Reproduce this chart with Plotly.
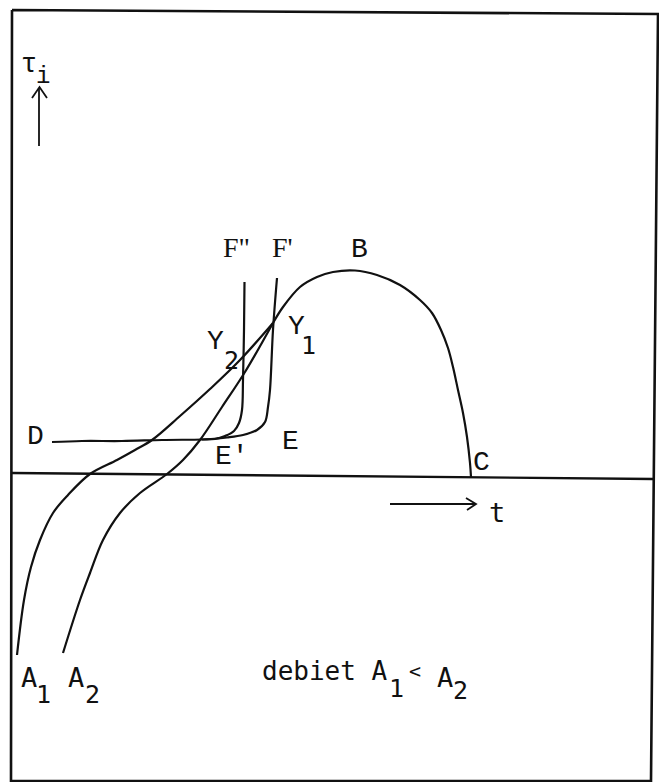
import plotly.graph_objects as go

# Curve A1 (lower flow): rises from below the t-axis up to Y1
a1_t = [0.5, 1.2, 1.9, 2.8, 4.1, 5.6, 7.8, 10.5, 12.3, 14.0, 16.8, 19.8, 22.8, 26.1]
a1_tau = [-18.0, -12.5, -9.2, -6.5, -3.8, -2.0, 0.1, 1.5, 2.5, 3.5, 5.9, 8.6, 11.5, 15.2]

# Curve A2 (higher flow)
a2_t = [5.1, 6.8, 7.8, 9.1, 10.8, 12.8, 15.5, 17.1, 18.8, 21.0, 23.3, 26.1]
a2_tau = [-17.8, -12.5, -9.8, -6.5, -3.8, -1.8, 0.1, 1.5, 3.5, 6.8, 10.3, 15.2]

# Common branch Y1 -> B -> C
b_t = [26.1, 27.1, 28.8, 30.5, 32.1, 34.3, 36.5, 38.8, 40.8, 42.0, 42.9, 43.6, 44.1, 44.6, 45.1, 45.5, 45.8, 45.9]
b_tau = [15.2, 16.8, 18.8, 19.8, 20.3, 20.45, 20.0, 19.0, 17.5, 16.2, 14.5, 12.7, 10.8, 8.5, 6.2, 3.8, 1.2, -0.2]

# Plateau D -> E' continuing into F''
dff_t = [4.0, 7.0, 11.0, 15.0, 19.0, 20.3, 21.3, 22.2, 22.7, 23.0, 23.1, 23.2, 23.25]
dff_tau = [3.3, 3.4, 3.4, 3.5, 3.55, 3.6, 3.9, 4.4, 5.2, 6.5, 9.5, 14.5, 19.3]

# Branch E -> F'
ef_t = [19.0, 20.5, 21.5, 23.1, 24.5, 25.3, 25.6, 25.8, 26.1, 26.5]
ef_tau = [3.55, 3.65, 3.75, 4.0, 4.5, 5.3, 6.8, 8.5, 14.5, 19.7]

# Frame and t-axis
frame_t = [0.0, 64.6, 63.9, -0.1, 0.0]
frame_tau = [46.5, 46.1, -30.6, -30.6, 46.5]
axis_t = [0.0, 64.1]
axis_tau = [0.2, -0.4]

# Direction arrows for tau and t
tau_arrow_t = [2.7, 2.7, None, 2.0, 2.75, 3.5]
tau_arrow_tau = [32.9, 38.7, None, 37.7, 38.8, 37.7]
t_arrow_t = [37.8, 46.4, None, 45.4, 46.4, 45.5]
t_arrow_tau = [-2.9, -2.9, None, -2.3, -2.9, -3.5]

# Labels: (text, t, tau, font family, size)
MONO = "Liberation Mono"
SERIF = "Liberation Serif"
SANS = "DejaVu Sans Mono"
labels = [
    ("τ", 1.65, 41.0, MONO, 27),
    ("i", 3.1, 39.9, MONO, 24),
    ("D", 2.3, 3.9, MONO, 28),
    ("E'", 21.95, 1.9, MONO, 28),
    ("E", 27.85, 3.4, MONO, 28),
    ("F\"", 22.4, 22.8, SERIF, 28),
    ("F'", 27.0, 22.8, SERIF, 28),
    ("B", 34.75, 22.6, MONO, 28),
    ("Y", 20.3, 13.4, MONO, 28),
    ("2", 21.9, 11.5, SANS, 25),
    ("Y", 28.4, 14.9, MONO, 28),
    ("1", 29.65, 13.0, SANS, 25),
    ("C", 46.95, 1.3, MONO, 28),
    ("t", 48.45, -3.7, SANS, 27),
    ("A", 1.65, -20.25, SANS, 27),
    ("1", 3.1, -21.9, SANS, 25),
    ("A", 6.4, -20.25, SANS, 27),
    ("2", 8.05, -21.9, SANS, 25),
    ("1", 38.4, -21.35, SANS, 25),
    ("<", 40.3, -19.6, SANS, 20),
    ("A", 43.3, -20.25, SANS, 27),
    ("2", 44.85, -21.55, SANS, 25),
]
caption = ("debiet A", 24.8, -19.6, SANS, 26)

ink = "#111111"
fig = go.Figure()

def add_line(xs, ys, width=2.2, shape="spline"):
    fig.add_trace(go.Scatter(
        x=xs, y=ys, mode="lines",
        line=dict(color=ink, width=width, shape=shape, smoothing=1.0 if shape == "spline" else None),
        hoverinfo="skip", showlegend=False, connectgaps=False,
    ))

add_line(frame_t, frame_tau, width=2.6, shape="linear")
add_line(axis_t, axis_tau, width=2.4, shape="linear")
add_line(a1_t, a1_tau)
add_line(a2_t, a2_tau)
add_line(b_t, b_tau)
add_line(dff_t, dff_tau)
add_line(ef_t, ef_tau)
add_line(tau_arrow_t, tau_arrow_tau, width=1.8, shape="linear")
add_line(t_arrow_t, t_arrow_tau, width=1.8, shape="linear")

for text, x, y, fam, size in labels:
    fig.add_annotation(x=x, y=y, text=text, showarrow=False,
                       xanchor="center", yanchor="middle",
                       font=dict(family=fam, size=size, color=ink))

text, x, y, fam, size = caption
fig.add_annotation(x=x, y=y, text=text, showarrow=False,
                   xanchor="left", yanchor="middle",
                   font=dict(family=fam, size=size, color=ink))

fig.update_layout(
    width=659, height=782, autosize=False,
    margin=dict(l=0, r=0, t=0, b=0),
    paper_bgcolor="white", plot_bgcolor="white",
    xaxis=dict(range=[-1.2, 64.7], visible=False, fixedrange=True),
    yaxis=dict(range=[-30.7, 47.5], visible=False, fixedrange=True),
)

fig.write_html("out.html")
